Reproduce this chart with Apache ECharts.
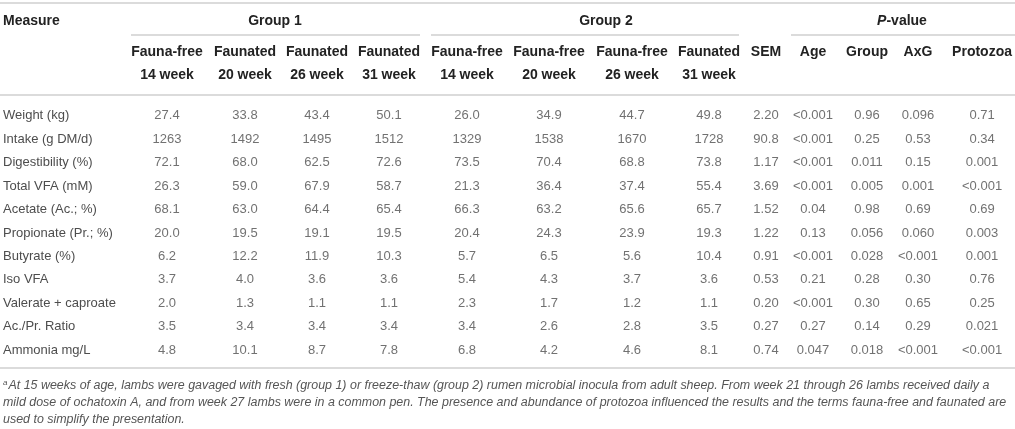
<html>

<head>
  <meta charset="utf-8">
  <title>Lamb measures by group and week</title>
  <style>
    html, body { margin: 0; padding: 0; background: #fff; }
  </style>
</head>

<body>
  <div id="main" style="width: 1015px;height:429px;"></div>
</body>
<script src="https://cdn.jsdelivr.net/npm/echarts@6.0.0/dist/echarts.min.js"></script>
<script>
  let measures = ['Weight (kg)', 'Intake (g DM/d)', 'Digestibility (%)', 'Total VFA (mM)', 'Acetate (Ac.; %)',
    'Propionate (Pr.; %)', 'Butyrate (%)', 'Iso VFA', 'Valerate + caproate', 'Ac./Pr. Ratio', 'Ammonia mg/L'];
  let columnHeaders = ['Fauna-free\n14 week', 'Faunated\n20 week', 'Faunated\n26 week', 'Faunated\n31 week',
    'Fauna-free\n14 week', 'Fauna-free\n20 week', 'Fauna-free\n26 week', 'Faunated\n31 week',
    'SEM\n ', 'Age\n ', 'Group\n ', 'AxG\n ', 'Protozoa\n '];
  let groupHeaders = ['Group 1', 'Group 2', '{i|P}-value'];

  // group 1
  let g1Free14 = ['27.4', '1263', '72.1', '26.3', '68.1', '20.0', '6.2', '3.7', '2.0', '3.5', '4.8'];
  let g1Fau20 = ['33.8', '1492', '68.0', '59.0', '63.0', '19.5', '12.2', '4.0', '1.3', '3.4', '10.1'];
  let g1Fau26 = ['43.4', '1495', '62.5', '67.9', '64.4', '19.1', '11.9', '3.6', '1.1', '3.4', '8.7'];
  let g1Fau31 = ['50.1', '1512', '72.6', '58.7', '65.4', '19.5', '10.3', '3.6', '1.1', '3.4', '7.8'];
  // group 2
  let g2Free14 = ['26.0', '1329', '73.5', '21.3', '66.3', '20.4', '5.7', '5.4', '2.3', '3.4', '6.8'];
  let g2Free20 = ['34.9', '1538', '70.4', '36.4', '63.2', '24.3', '6.5', '4.3', '1.7', '2.6', '4.2'];
  let g2Free26 = ['44.7', '1670', '68.8', '37.4', '65.6', '23.9', '5.6', '3.7', '1.2', '2.8', '4.6'];
  let g2Fau31 = ['49.8', '1728', '73.8', '55.4', '65.7', '19.3', '10.4', '3.6', '1.1', '3.5', '8.1'];
  let sem = ['2.20', '90.8', '1.17', '3.69', '1.52', '1.22', '0.91', '0.53', '0.20', '0.27', '0.74'];
  // P-values
  let pAge = ['<0.001', '<0.001', '<0.001', '<0.001', '0.04', '0.13', '<0.001', '0.21', '<0.001', '0.27', '0.047'];
  let pGroup = ['0.96', '0.25', '0.011', '0.005', '0.98', '0.056', '0.028', '0.28', '0.30', '0.14', '0.018'];
  let pAxG = ['0.096', '0.53', '0.15', '0.001', '0.69', '0.060', '<0.001', '0.30', '0.65', '0.29', '<0.001'];
  let pProtozoa = ['0.71', '0.34', '0.001', '<0.001', '0.69', '0.003', '0.001', '0.76', '0.25', '0.021', '<0.001'];

  let footnote = [
    'At 15 weeks of age, lambs were gavaged with fresh (group 1) or freeze-thaw (group 2) rumen microbial inocula from adult sheep. From week 21 through 26 lambs received daily a',
    'mild dose of ochatoxin A, and from week 27 lambs were in a common pen. The presence and abundance of protozoa influenced the results and the terms fauna-free and faunated are',
    'used to simplify the presentation.'
  ];

  let columns = [g1Free14, g1Fau20, g1Fau26, g1Fau31, g2Free14, g2Free20, g2Free26, g2Fau31,
    sem, pAge, pGroup, pAxG, pProtozoa];

  // layout (pixels)
  let colCenters = [167, 245, 317, 389, 467, 549, 632, 709, 766, 813, 867, 918, 983];
  let groupCenters = [275, 606, 902];
  let fontFamily = '"Liberation Sans", Arial, Helvetica, sans-serif';
  let ruleStyle = { stroke: '#cfcfcf', lineWidth: 1.3 };

  let grids = [], xAxes = [], yAxes = [], series = [];
  columns.forEach((col, i) => {
    grids.push({ left: colCenters[i] - 20, width: 40, top: 104, height: 258 });
    xAxes.push({
      gridIndex: i, type: 'category', position: 'top', data: [columnHeaders[i]],
      axisLine: { show: false }, axisTick: { show: false }, splitLine: { show: false },
      axisLabel: {
        interval: 0, margin: 17, lineHeight: 23,
        color: '#222', fontFamily, fontSize: 14, fontWeight: 'bold'
      }
    });
    yAxes.push({
      gridIndex: i, type: 'category', inverse: true, data: measures,
      axisLine: { show: false }, axisTick: { show: false }, splitLine: { show: false },
      axisLabel: {
        show: i === 0, interval: 0, align: 'left', margin: colCenters[0] - 20 - 3,
        color: '#4d4d4d', fontFamily, fontSize: 13
      }
    });
    series.push({
      type: 'scatter', xAxisIndex: i, yAxisIndex: i, symbolSize: 0, silent: true,
      data: col.map((v, r) => ({ name: v, value: [0, r] })),
      label: {
        show: true, position: 'inside', formatter: '{b}',
        color: '#4d4d4d', fontFamily, fontSize: 13
      }
    });
  });

  let graphic = [
    { type: 'line', shape: { x1: 0, y1: 3, x2: 1015, y2: 3 }, style: ruleStyle },
    { type: 'line', shape: { x1: 131, y1: 35, x2: 420, y2: 35 }, style: ruleStyle },
    { type: 'line', shape: { x1: 431, y1: 35, x2: 739, y2: 35 }, style: ruleStyle },
    { type: 'line', shape: { x1: 791, y1: 35, x2: 1015, y2: 35 }, style: ruleStyle },
    { type: 'line', shape: { x1: 0, y1: 95, x2: 1015, y2: 95 }, style: ruleStyle },
    { type: 'line', shape: { x1: 0, y1: 368, x2: 1015, y2: 368 }, style: ruleStyle },
    {
      type: 'text',
      style: { x: 3, y: 21, text: 'Measure', align: 'left', verticalAlign: 'middle',
        font: 'bold 14px ' + fontFamily, fill: '#222' }
    },
    {
      type: 'text',
      style: {
        x: 3, y: 377, verticalAlign: 'top', align: 'left',
        text: '{sup|a}{it|' + footnote[0] + '}\n{it|' + footnote[1] + '}\n{it|' + footnote[2] + '}',
        rich: {
          it: { font: 'italic 12.45px ' + fontFamily, fill: '#555', lineHeight: 17 },
          sup: { font: 'italic 8px ' + fontFamily, fill: '#555', lineHeight: 17, padding: [0, 1, 6, 0] }
        }
      }
    }
  ];
  groupHeaders.forEach((g, i) => {
    graphic.push({
      type: 'text',
      style: {
        x: groupCenters[i], y: 21, text: g, align: 'center', verticalAlign: 'middle',
        font: 'bold 14px ' + fontFamily, fill: '#222',
        rich: { i: { font: 'italic bold 14px ' + fontFamily, fill: '#222' } }
      }
    });
  });

  var myChart = echarts.init(document.getElementById('main'));

  option = {
    animation: false,
    grid: grids,
    xAxis: xAxes,
    yAxis: yAxes,
    series: series,
    graphic: graphic
  };

  myChart.setOption(option);

</script>

</html>
